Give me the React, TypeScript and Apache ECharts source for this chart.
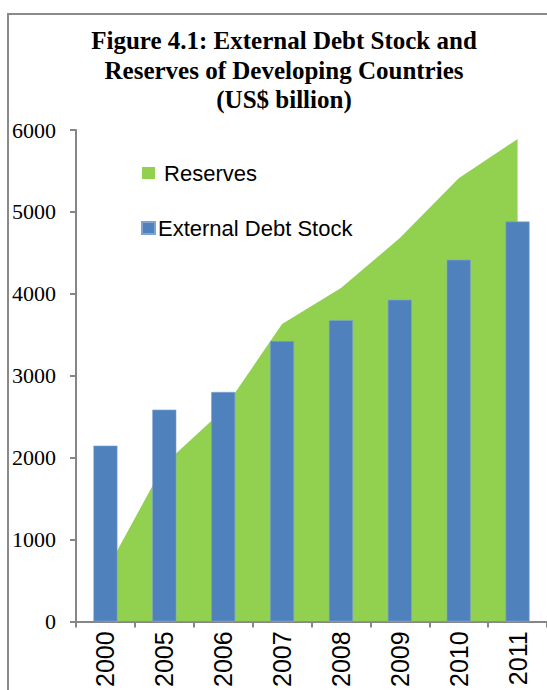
import React, { useEffect, useRef } from "react";
import * as echarts from "echarts";

const years = ["2000", "2005", "2006", "2007", "2008", "2009", "2010", "2011"];
const reserves = [600, 1920, 2580, 3630, 4070, 4680, 5410, 5890];
const externalDebt = [2146, 2585, 2801, 3423, 3679, 3927, 4415, 4882];
const yTicks = { min: 0, max: 6000, interval: 1000 };

export default function App() {
  const ref = useRef<HTMLDivElement>(null);
  useEffect(() => {
    if (!ref.current) return;
    const chart = echarts.init(ref.current, undefined, { renderer: "svg" });
    chart.setOption({
      animation: false,
      backgroundColor: "#ffffff",
      graphic: [
        {
          type: "rect",
          shape: { x: 8, y: 14, width: 700, height: 800 },
          style: { fill: "none", stroke: "#8a8a8a", lineWidth: 2 },
          silent: true,
        },
        {
          type: "text",
          x: 284,
          y: 26,
          style: {
            text: "Figure 4.1: External Debt Stock and\nReserves of Developing Countries\n(US$ billion)",
            font: 'bold 25px "Liberation Serif"',
            fill: "#000",
            align: "center",
            verticalAlign: "top",
            lineHeight: 29.5,
          },
        },
      ],
      legend: {
        data: ["Reserves", "External Debt Stock"],
        orient: "vertical",
        left: 136,
        top: 157,
        itemWidth: 13,
        itemHeight: 12,
        itemGap: 33,
        icon: "rect",
        formatter: (n: string) => (n === "Reserves" ? " " + n : n),
        textStyle: { fontFamily: "Liberation Sans", fontSize: 22, color: "#000", padding: [0, 0, 0, -2] },
      },
      grid: { left: 76, right: -1, top: 130, bottom: 68 },
      xAxis: {
        type: "category",
        data: years,
        boundaryGap: true,
        axisLine: { lineStyle: { color: "#868686", width: 2 } },
        axisTick: { show: true, length: 6, lineStyle: { color: "#868686", width: 2 } },
        axisLabel: {
          rotate: 90,
          margin: 10,
          fontFamily: "Liberation Sans",
          fontSize: 25,
          color: "#000",
        },
      },
      yAxis: {
        type: "value",
        min: yTicks.min,
        max: yTicks.max,
        interval: yTicks.interval,
        axisLine: { show: true, lineStyle: { color: "#868686", width: 2 } },
        axisTick: { show: true, length: 6, lineStyle: { color: "#868686", width: 2 } },
        splitLine: { show: false },
        axisLabel: {
          margin: 20,
          fontFamily: "Liberation Serif",
          fontSize: 22,
          color: "#000",
          formatter: (v: number) => String(v),
        },
      },
      series: [
        {
          name: "Reserves",
          type: "line",
          data: reserves,
          symbol: "none",
          lineStyle: { width: 0 },
          itemStyle: { color: "#92D050" },
          areaStyle: { color: "#92D050", opacity: 1 },
          z: 1,
        },
        {
          name: "External Debt Stock",
          type: "bar",
          data: externalDebt,
          barWidth: 24,
          itemStyle: { color: "#4F81BD", borderColor: "#7FA3D3", borderWidth: 0.6 },
          z: 2,
        },
      ],
    });
    return () => chart.dispose();
  }, []);
  return <div ref={ref} style={{ position: "absolute", left: 0, top: 0, width: 547, height: 690 }} />;
}
